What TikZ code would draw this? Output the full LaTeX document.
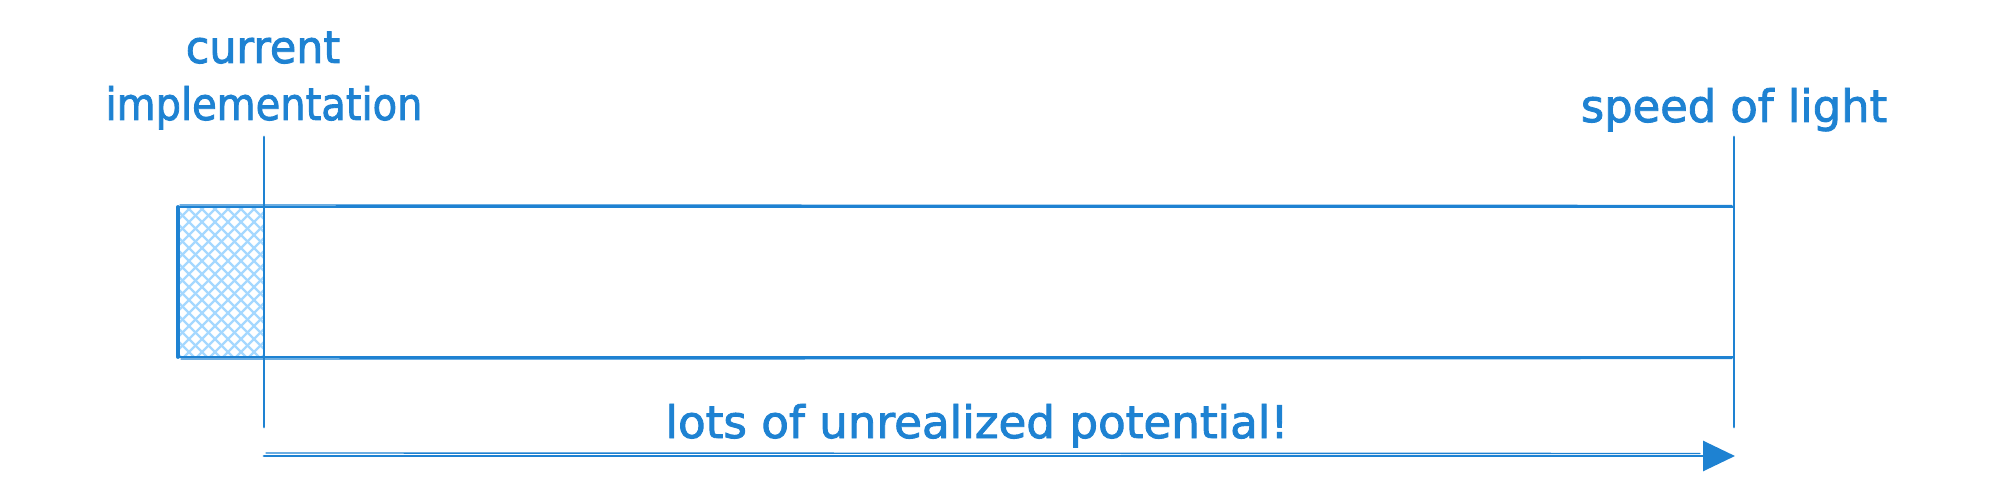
\documentclass[tikz,border=0pt]{standalone}
\usepackage{fontspec}
\setmainfont[FakeBold=2]{DejaVu Sans}
\usetikzlibrary{arrows.meta}
\definecolor{ink}{HTML}{1E82D2}
\definecolor{hatchc}{HTML}{A5D8FF}
\begin{document}
\begin{tikzpicture}[x=0.5pt,y=-0.5pt,
  lbl/.style={text=ink, font=\fontsize{20}{24}\selectfont, anchor=base, inner sep=0pt},
  stroke/.style={draw=ink, line width=1.4pt, line cap=round, line join=round},
  sketch/.style={draw=ink, line width=0.7pt, line cap=round},
  hatchline/.style={draw=hatchc, line width=1.1pt}]
\useasboundingbox (0,0) rectangle (1999,481);
% key points
\coordinate (tl) at (178,207);
\coordinate (br) at (1734,357);
\coordinate (hr) at (264,357);
\coordinate (cTop) at (264,137);
\coordinate (cBot) at (264,427);
\coordinate (sTop) at (1734,137);
\coordinate (sBot) at (1734,427);
\coordinate (aStart) at (264,456);
\coordinate (aEnd) at (1735,456);
% hatch fill of the current part
\begin{scope}
  \clip (tl) rectangle (hr);
  \foreach \i in {0,13,...,340} {
    \draw[hatchline] (178+\i-160,207) -- ++(160,160);
    \draw[hatchline] (178+\i,207) -- ++(-160,160);
  }
\end{scope}
% bar
\draw[stroke] (tl) rectangle (br);
\draw[sketch] (180,205) -- (1732,205.5);
\draw[sketch] (181,359) -- (1732,358.5);
\draw[stroke, line width=1.9pt] (tl) -- (tl |- br);
% markers
\draw[stroke] (cTop) -- (cBot);
\draw[stroke] (sTop) -- (sBot);
% arrow
\draw[stroke, -{Triangle[length=16pt,width=15pt]}] (aStart) -- (aEnd);
\draw[sketch] (266,453) -- (1700,453.5);
% labels
\node[lbl] (cur) at (263,63) {\scalebox{1.07}[1.12]{current}};
\node[lbl] (impl) at (264,120) {\scalebox{1.0}[1.12]{implementation}};
\node[lbl] (sol) at (1734,122) {\scalebox{1.12}[1.12]{speed of light}};
\node[lbl] (pot) at (977,438) {\scalebox{1.13}[1.12]{lots of unrealized potential!}};
\end{tikzpicture}
\end{document}
